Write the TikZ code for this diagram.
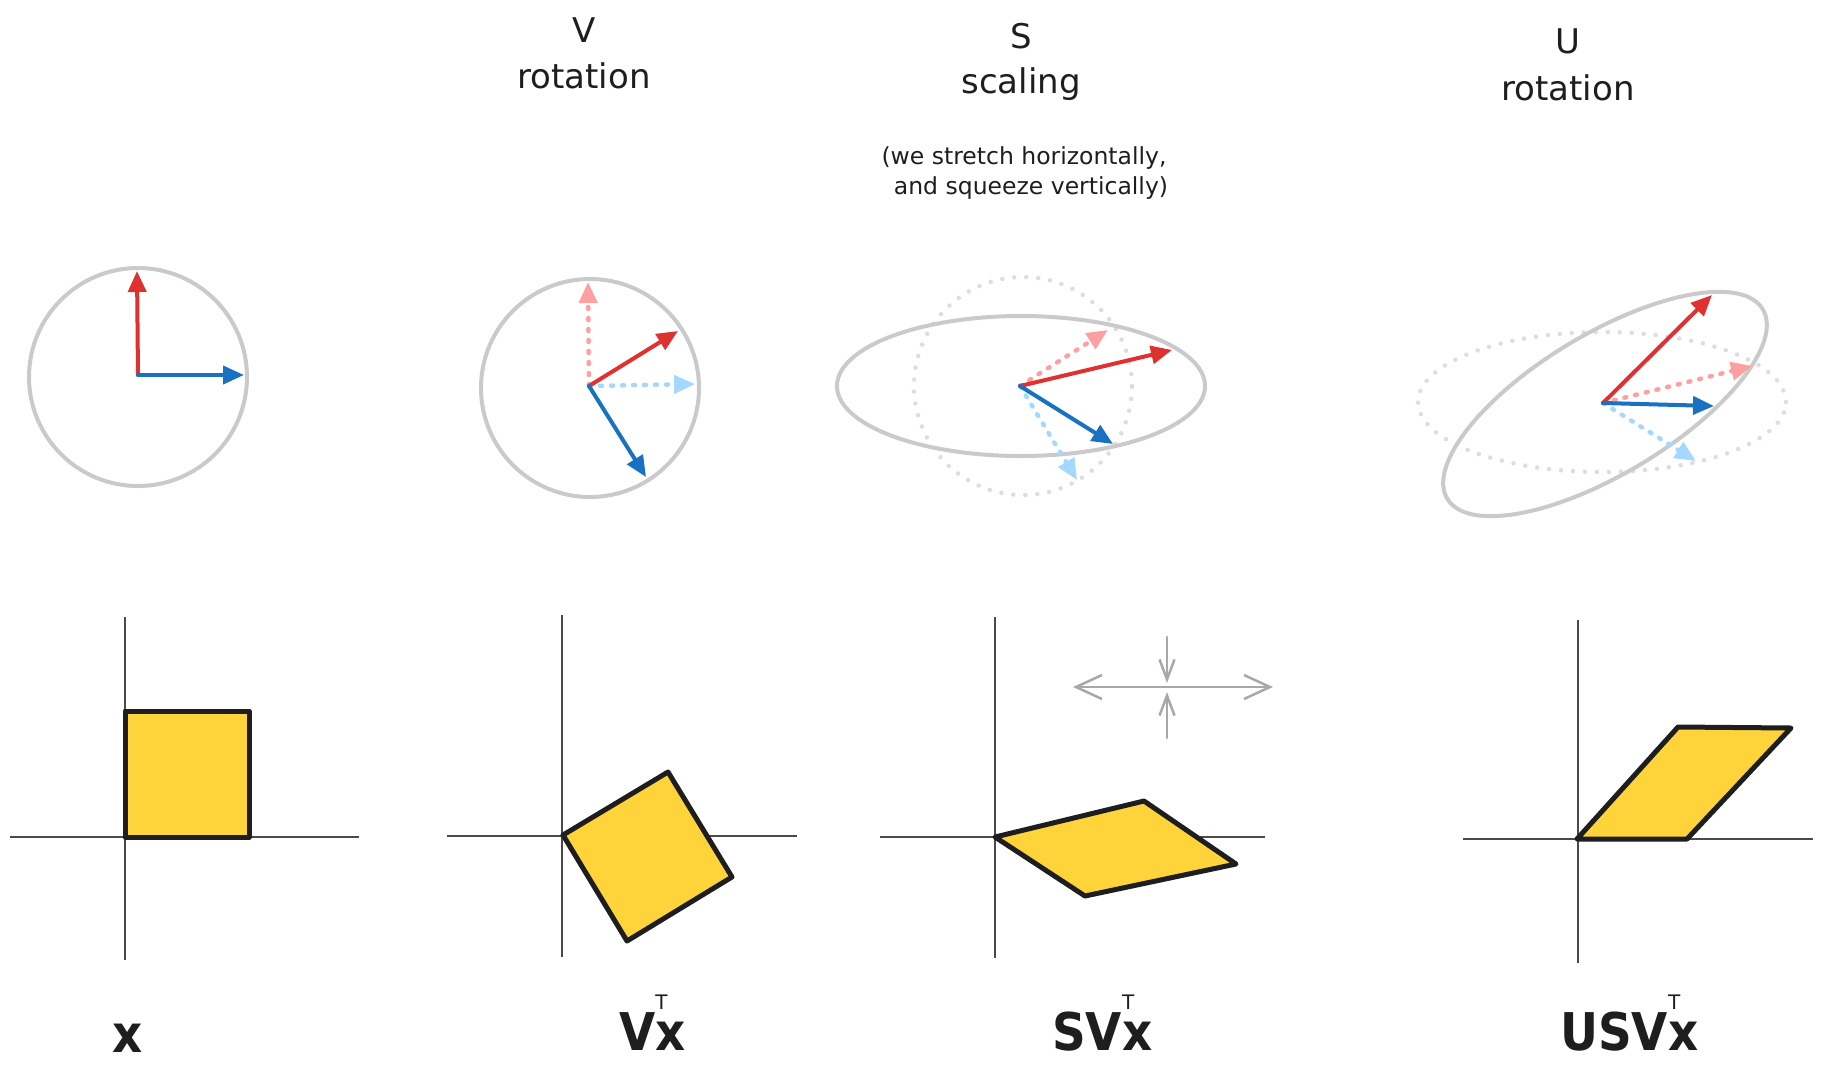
\documentclass[tikz,border=0pt]{standalone}
\usepackage{fontspec}
\setmainfont{DejaVu Sans}
\usetikzlibrary{arrows.meta}
\definecolor{cred}{HTML}{E03131}
\definecolor{cblue}{HTML}{1971C2}
\definecolor{cpink}{HTML}{FFA0A0}
\definecolor{clblue}{HTML}{A5D8FF}
\definecolor{cgray}{HTML}{CACACA}
\definecolor{cgrayl}{HTML}{DDDDDD}
\definecolor{cyel}{HTML}{FFD43B}
\definecolor{cink}{HTML}{1E1E1E}
\definecolor{caxis}{HTML}{4A4A4A}
\definecolor{cstr}{HTML}{A8A8A8}
\tikzset{
 ring/.style={draw=cgray, line width=4pt},
 ghost/.style={draw=cgrayl, line width=4.5pt, line cap=round, dash pattern=on 0pt off 12pt},
 vec/.style={line width=4pt, line cap=round, -{Triangle[length=21pt,width=18pt]}},
 ghostvec/.style={line width=4.5pt, line cap=round, dash pattern=on 2pt off 9pt, -{Triangle[length=21pt,width=18pt]}},
 axisline/.style={draw=caxis, line width=1.6pt},
 quad/.style={fill=cyel, draw=cink, line width=5pt, line join=round},
 hstretch/.style={draw=cstr, line width=2.5pt, line cap=round, -{Straight Barb[length=26pt,width=24pt]}},
 vsqueeze/.style={draw=cstr, line width=2.5pt, line cap=round, -{Straight Barb[length=20pt,width=15pt]}},
 title/.style={font=\fontsize{34}{38}\selectfont, text=cink, inner sep=0pt, anchor=base},
 note/.style={font=\fontsize{23.5}{28}\selectfont, text=cink, inner sep=0pt, anchor=base},
 lab/.style={font=\fontsize{52}{52}\selectfont\bfseries, text=cink, inner sep=0pt, anchor=base west}
}
\newcommand{\nar}[1]{\scalebox{0.9}[1]{#1}}
\newcommand{\supT}{\rlap{\raisebox{41pt}{\fontsize{20}{20}\mdseries\selectfont T}}}
\begin{document}
\begin{tikzpicture}[x=1pt,y=-1pt]
\fill[white] (0,0) rectangle (1824,1085);
\useasboundingbox (0,0) rectangle (1824,1085);

% ---------- titles ----------
\node[title] (tV) at (584,42) {V};
\node[title] (tVr) at (584,88) {rotation};
\node[title] (tS) at (1021,48) {S};
\node[title] (tSs) at (1021,93) {scaling};
\node[note] (n1) at (1024,164) {(we stretch horizontally,};
\node[note] (n2) at (1031,194) {and squeeze vertically)};
\node[title] (tU) at (1568,53) {U};
\node[title] (tUr) at (1568,100) {rotation};

% ---------- panel 1 top ----------
\draw[ring] (138,377) circle [radius=109pt];
\coordinate (o1) at (138,375);
\coordinate (r1) at (137,271);
\coordinate (b1) at (244,375);
\draw[vec, cred] (o1) -- (r1);
\draw[vec, cblue] (o1) -- (b1);

% ---------- panel 2 top ----------
\draw[ring] (590,388) circle [radius=109pt];
\coordinate (o2) at (589,386);
\coordinate (pr2) at (588,282);
\coordinate (pb2) at (695,384);
\coordinate (r2) at (678,331);
\coordinate (b2) at (646,477);
\draw[ghostvec, cpink] (o2) -- (pr2);
\draw[ghostvec, clblue] (o2) -- (pb2);
\draw[vec, cred] (o2) -- (r2);
\draw[vec, cblue] (o2) -- (b2);

% ---------- panel 3 top ----------
\draw[ghost] (1023,386) circle [radius=109pt];
\draw[ring] (1021,386) ellipse [x radius=184pt, y radius=70pt];
\coordinate (o3) at (1020,386);
\coordinate (pr3) at (1108,330);
\coordinate (pb3) at (1077,480);
\coordinate (r3) at (1172,350);
\coordinate (b3) at (1113,444);
\draw[ghostvec, cpink] (o3) -- (pr3);
\draw[ghostvec, clblue] (o3) -- (pb3);
\draw[vec, cred] (o3) -- (r3);
\draw[vec, cblue] (o3) -- (b3);

% ---------- panel 4 top ----------
\draw[ghost] (1602,402) ellipse [x radius=184pt, y radius=70pt];
\draw[ring, shift={(1605,404)}, rotate=31] (0pt,0pt) ellipse [x radius=184pt, y radius=70pt];
\coordinate (o4) at (1603,403);
\coordinate (pr4) at (1752,366);
\coordinate (pb4) at (1696,461);
\coordinate (r4) at (1712,295);
\coordinate (b4) at (1714,406);
\draw[ghostvec, cpink] (o4) -- (pr4);
\draw[ghostvec, clblue] (o4) -- (pb4);
\draw[vec, cred] (o4) -- (r4);
\draw[vec, cblue] (o4) -- (b4);

% ---------- panel 1 bottom ----------
\draw[axisline] (125,617) -- (125,960);
\draw[axisline] (10,837) -- (359,837);
\draw[quad] (125,837) -- (249,837) -- (249,711) -- (125,711) -- cycle;

% ---------- panel 2 bottom ----------
\draw[axisline] (562,615) -- (562,957);
\draw[axisline] (447,836) -- (797,836);
\draw[quad] (563,835) -- (668,772) -- (732,877) -- (627,941) -- cycle;

% ---------- panel 3 bottom ----------
\draw[axisline] (995,617) -- (995,958);
\draw[axisline] (880,837) -- (1265,837);
\draw[quad] (995,837) -- (1144,801) -- (1236,864) -- (1085,896) -- cycle;
\coordinate (sc) at (1168,687);
\coordinate (sl) at (1073,687);
\coordinate (sr) at (1273,687);
\coordinate (st) at (1167,637);
\coordinate (stt) at (1167,683);
\coordinate (sb) at (1167,738);
\coordinate (sbt) at (1167,692);
\draw[hstretch] (sc) -- (sl);
\draw[hstretch] (sc) -- (sr);
\draw[vsqueeze] (st) -- (stt);
\draw[vsqueeze] (sb) -- (sbt);

% ---------- panel 4 bottom ----------
\draw[axisline] (1578,620) -- (1578,963);
\draw[axisline] (1463,839) -- (1813,839);
\draw[quad] (1577,839) -- (1678,727) -- (1791,728) -- (1687,839) -- cycle;

% ---------- bottom labels ----------
\node[lab] (l1) at (112,1052) {\nar{x}};
\node[lab] (l2) at (619,1050) {\nar{V}\supT\nar{x}};
\node[lab] (l3) at (1052,1050) {\nar{SV}\supT\nar{x}};
\node[lab] (l4) at (1560,1050) {\nar{USV}\supT\nar{x}};
\end{tikzpicture}
\end{document}
